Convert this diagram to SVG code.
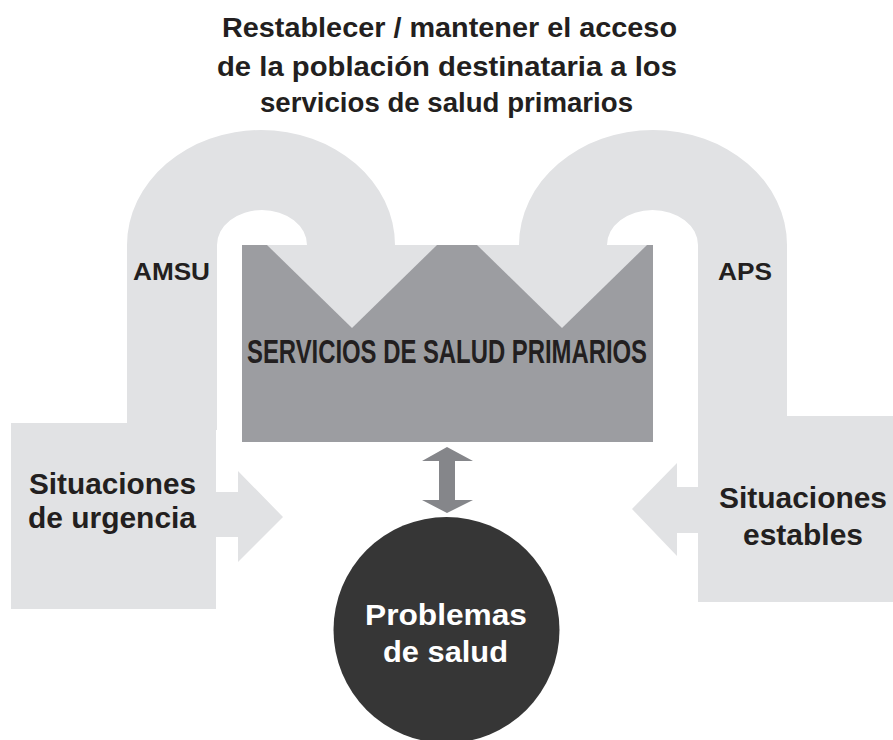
<svg xmlns="http://www.w3.org/2000/svg" width="893" height="740" viewBox="0 0 893 740">
  <defs>
    <style>
      .band { fill: #e1e2e4; }
      .box { fill: #9c9da1; }
      .dark { fill: #231f20; font-family: "Liberation Sans", Arial, sans-serif; font-weight: bold; }
      .light { fill: #ffffff; font-family: "Liberation Sans", Arial, sans-serif; font-weight: bold; }
    </style>
  </defs>
  <rect width="893" height="740" fill="#ffffff"/>

  <g id="title">
    <text class="dark" x="449.5" y="37" font-size="27" text-anchor="middle" textLength="455" lengthAdjust="spacingAndGlyphs">Restablecer / mantener el acceso</text>
    <text class="dark" x="447" y="76" font-size="27" text-anchor="middle" textLength="460" lengthAdjust="spacingAndGlyphs">de la población destinataria a los</text>
    <text class="dark" x="446.5" y="112" font-size="27" text-anchor="middle" textLength="373" lengthAdjust="spacingAndGlyphs">servicios de salud primarios</text>
  </g>

  <g id="connectors">
    <!-- AMSU arch -->
    <path id="arch-amsu" class="band" d="M127,430 V245 A134,115 0 0 1 395,245 V246 H307 V245 A45,35 0 0 0 217,245 V430 Z"/>
    <!-- APS arch -->
    <path id="arch-aps" class="band" d="M519,246 V245 A134,115 0 0 1 787,245 V420 H698 V245 A45.5,35 0 0 0 607,245 V246 Z"/>
    <!-- side arrows -->
    <polygon id="arrow-urgencia" class="band" points="214,492 238,492 238,471 283,517 238,562 238,537 214,537"/>
    <polygon id="arrow-estables" class="band" points="700,487 677,487 677,463 632,509 677,556 677,533 700,533"/>
  </g>

  <g id="block-urgencia">
    <rect class="band" x="11" y="423" width="205" height="186"/>
    <text class="dark" x="112.5" y="494" font-size="30" text-anchor="middle" textLength="167" lengthAdjust="spacingAndGlyphs">Situaciones</text>
    <text class="dark" x="112" y="528" font-size="30" text-anchor="middle" textLength="168" lengthAdjust="spacingAndGlyphs">de urgencia</text>
  </g>

  <g id="block-estables">
    <rect class="band" x="698" y="416" width="195" height="186"/>
    <text class="dark" x="803" y="508" font-size="30" text-anchor="middle" textLength="168" lengthAdjust="spacingAndGlyphs">Situaciones</text>
    <text class="dark" x="803" y="545" font-size="30" text-anchor="middle" textLength="120" lengthAdjust="spacingAndGlyphs">estables</text>
  </g>

  <g id="label-amsu">
    <text class="dark" x="171.5" y="280" font-size="24" text-anchor="middle" textLength="77" lengthAdjust="spacingAndGlyphs">AMSU</text>
  </g>
  <g id="label-aps">
    <text class="dark" x="745" y="280" font-size="24" text-anchor="middle" textLength="54" lengthAdjust="spacingAndGlyphs">APS</text>
  </g>

  <g id="servicios">
    <rect class="box" x="242" y="245" width="411" height="197"/>
    <polygon class="band" points="267,245 437,245 352,328"/>
    <polygon class="band" points="477,245 647,245 562,328"/>
    <text class="dark" x="447" y="363" font-size="34" text-anchor="middle" textLength="400" lengthAdjust="spacingAndGlyphs">SERVICIOS DE SALUD PRIMARIOS</text>
  </g>

  <g id="connector-double">
    <polygon fill="#85868a" points="447,447 473,461 455,461 455,500 473,500 447,513 422,500 439,500 439,461 422,461"/>
  </g>

  <g id="problemas">
    <circle cx="446.5" cy="630" r="113" fill="#363636"/>
    <text class="light" x="446" y="625" font-size="29" text-anchor="middle" textLength="162" lengthAdjust="spacingAndGlyphs">Problemas</text>
    <text class="light" x="445.5" y="662" font-size="29" text-anchor="middle" textLength="125" lengthAdjust="spacingAndGlyphs">de salud</text>
  </g>
</svg>
